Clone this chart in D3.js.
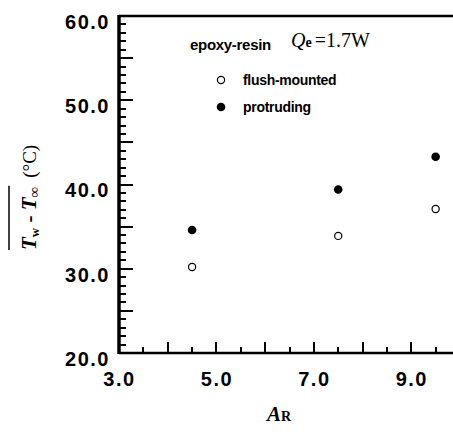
<!DOCTYPE html>
<html>
<head>
<meta charset="utf-8">
<script src="https://cdn.jsdelivr.net/npm/d3@7"></script>
<style>
  html, body { margin: 0; padding: 0; background: #fff; }
  svg { display: block; }
</style>
</head>
<body>
<svg id="chart" width="453" height="435"></svg>
<script>
// Daten
const aspectRatio = [4.5, 7.5, 9.5];
const flushMounted = [30.2, 33.9, 37.1];
const protruding = [34.6, 39.4, 43.3];
const xTickLabels = [3, 5, 7, 9];
const yTickLabels = [20, 30, 40, 50, 60];

const svg = d3.select("#chart");

// Layout (Rahmen läuft rechts über den Bildrand hinaus)
const plotLeft = 119, plotTop = 16, plotBottom = 353, plotRight = 460;

const x = d3.scaleLinear().domain([3, 10]).range([plotLeft, plotRight]);
const y = d3.scaleLinear().domain([20, 60]).range([plotBottom, plotTop]);

const axisFont = "'Liberation Sans', Arial, sans-serif";
const serif = "'Liberation Serif', 'Times New Roman', serif";

// Tick-Beschriftungen über d3-Achsen
const fmt = d3.format(".1f");
const gx = svg.append("g").attr("transform", `translate(0,${plotBottom})`)
  .call(d3.axisBottom(x).tickValues(xTickLabels).tickSize(0).tickPadding(19).tickFormat(fmt))
  .call(g => g.select(".domain").remove());
const gy = svg.append("g").attr("transform", `translate(${plotLeft},0)`)
  .call(d3.axisLeft(y).tickValues(yTickLabels).tickSize(0).tickPadding(9).tickFormat(fmt))
  .call(g => g.select(".domain").remove());

svg.selectAll(".tick text")
  .attr("fill", "#000")
  .attr("font-family", axisFont)
  .attr("font-weight", "bold")
  .attr("font-size", "20px")
  .attr("letter-spacing", "1.5px");
gy.selectAll(".tick text").attr("dy", "0.62em");

// Rahmen
svg.append("line").attr("x1", plotLeft).attr("x2", 453).attr("y1", plotTop).attr("y2", plotTop)
  .attr("stroke", "#000").attr("stroke-width", 2.5);
svg.append("line").attr("x1", plotLeft).attr("x2", 453).attr("y1", plotBottom).attr("y2", plotBottom)
  .attr("stroke", "#000").attr("stroke-width", 2.5);
svg.append("line").attr("x1", plotLeft).attr("x2", plotLeft).attr("y1", plotTop - 1).attr("y2", plotBottom + 1)
  .attr("stroke", "#000").attr("stroke-width", 3.5);

// Punkte
const pts = svg.append("g");
pts.selectAll("circle.flush")
  .data(aspectRatio.map((a, i) => ({ a, v: flushMounted[i] })))
  .join("circle")
    .attr("class", "flush")
    .attr("cx", d => x(d.a))
    .attr("cy", d => y(d.v))
    .attr("r", 3.6)
    .attr("fill", "#fff")
    .attr("stroke", "#000")
    .attr("stroke-width", 1.2);
pts.selectAll("circle.prot")
  .data(aspectRatio.map((a, i) => ({ a, v: protruding[i] })))
  .join("circle")
    .attr("class", "prot")
    .attr("cx", d => x(d.a))
    .attr("cy", d => y(d.v))
    .attr("r", 4.3)
    .attr("fill", "#000");

// Beschriftung im Plot
svg.append("text")
  .attr("x", 190).attr("y", 50)
  .attr("font-family", axisFont).attr("font-weight", "bold").attr("font-size", "15px")
  .attr("letter-spacing", "-0.3px")
  .text("epoxy-resin");

const qe = svg.append("text")
  .attr("x", 291).attr("y", 47)
  .attr("font-family", serif).attr("font-size", "20px");
qe.append("tspan").attr("font-style", "italic").text("Q");
qe.append("tspan").attr("font-weight", "bold").attr("font-size", "14px").text("e");
qe.append("tspan").attr("dx", 3).text("=1.7W");

// Legende
const legend = [
  { label: "flush-mounted", open: true, y: 80 },
  { label: "protruding", open: false, y: 107 }
];
const lg = svg.append("g").selectAll("g").data(legend).join("g")
  .attr("transform", d => `translate(221,${d.y})`);
lg.append("circle")
  .attr("r", d => d.open ? 3.6 : 4.3)
  .attr("fill", d => d.open ? "#fff" : "#000")
  .attr("stroke", d => d.open ? "#000" : "none")
  .attr("stroke-width", 1.2);
lg.append("text")
  .attr("x", 22).attr("dy", "0.35em")
  .attr("font-family", axisFont).attr("font-weight", "bold").attr("font-size", "14px")
  .attr("letter-spacing", "-0.3px")
  .text(d => d.label);

// x-Achsentitel
const xTitle = svg.append("text")
  .attr("x", 267).attr("y", 421)
  .attr("font-family", serif).attr("font-weight", "bold");
xTitle.append("tspan").attr("font-style", "italic").attr("font-size", "21px").text("A");
xTitle.append("tspan").attr("font-size", "14px").text("R");

// y-Achsentitel (gedreht, mit Überstrich)
const yTitle = svg.append("g").attr("transform", "translate(36,250) rotate(-90)");
const yMain = yTitle.append("text")
  .attr("x", 0).attr("y", 0)
  .attr("font-family", serif).attr("font-weight", "bold").attr("font-size", "21px");
yMain.append("tspan").attr("font-style", "italic").text("T");
yMain.append("tspan").attr("font-size", "13px").attr("dy", 3).text("w");
yMain.append("tspan").attr("dy", -3).text(" - ");
yMain.append("tspan").attr("font-style", "italic").text("T");
yMain.append("tspan").attr("font-size", "15px").attr("dy", 3).text("∞");
const mw = yMain.node().getComputedTextLength();
yTitle.append("line")
  .attr("x1", 0).attr("x2", mw + 1)
  .attr("y1", -27).attr("y2", -27)
  .attr("stroke", "#000").attr("stroke-width", 1.5);
yTitle.append("text")
  .attr("x", mw + 9).attr("y", 0)
  .attr("font-family", serif).attr("font-size", "19px")
  .text("(°C)");

// Ticks nach innen, zuletzt gezeichnet (x alle 0.5, ganze Zahlen länger; y alle 1, 5er länger)
for (let i = 7; i <= 20; i++) {
  const v = i / 2;
  const len = i % 2 === 0 ? 11 : 6;
  svg.append("line")
    .attr("x1", Math.round(x(v))).attr("x2", Math.round(x(v)))
    .attr("y1", plotBottom).attr("y2", plotBottom - len)
    .attr("stroke", "#000").attr("stroke-width", 2);
}
for (let v = 21; v <= 59; v++) {
  const len = v % 5 === 0 ? 14 : 7;
  svg.append("line")
    .attr("x1", plotLeft).attr("x2", plotLeft + len)
    .attr("y1", Math.round(y(v))).attr("y2", Math.round(y(v)))
    .attr("stroke", "#000").attr("stroke-width", 2);
}
</script>
</body>
</html>
